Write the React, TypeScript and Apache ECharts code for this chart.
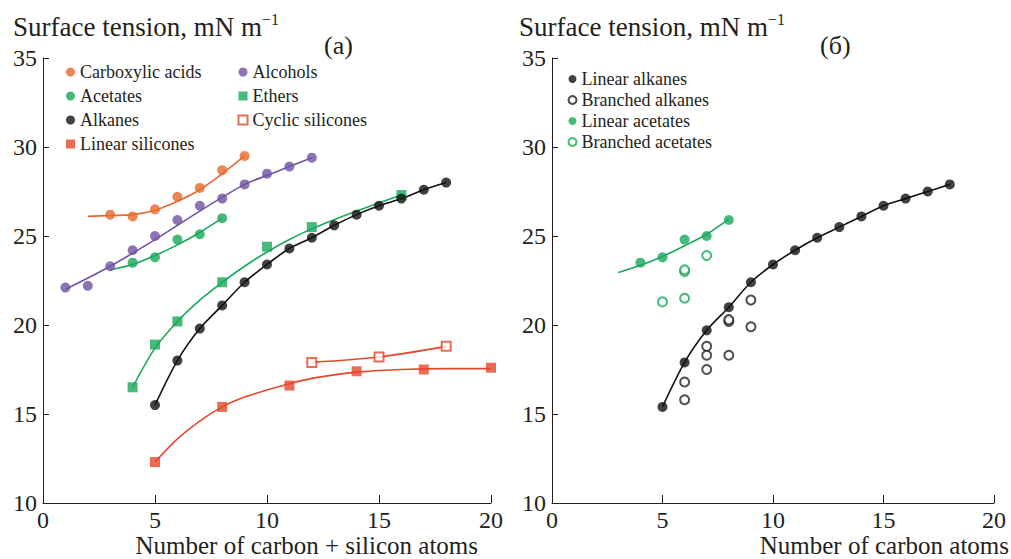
import React, { useEffect, useRef } from "react";
import * as echarts from "echarts";

// ---- Panel (a) data ----
const acidsX = [3, 4, 5, 6, 7, 8, 9];
const acidsY = [26.2, 26.1, 26.5, 27.2, 27.7, 28.7, 29.5];
const acidsFitX = [2, 3, 4, 5, 6, 7, 8, 9];
const acidsFitY = [26.1, 26.15, 26.2, 26.45, 26.95, 27.6, 28.5, 29.5];

const alcoholsX = [1, 2, 3, 4, 5, 6, 7, 8, 9, 10, 11, 12];
const alcoholsY = [22.1, 22.2, 23.3, 24.2, 25.0, 25.9, 26.7, 27.1, 27.9, 28.5, 28.9, 29.4];
const alcoholsFitX = [1, 3, 5, 7, 9, 10, 11, 12];
const alcoholsFitY = [22.0, 23.3, 24.8, 26.4, 27.9, 28.4, 28.9, 29.4];

const acetatesX = [4, 5, 6, 7, 8];
const acetatesY = [23.5, 23.8, 24.8, 25.1, 26.0];
const acetatesFitX = [3, 4, 5, 6, 7, 8];
const acetatesFitY = [23.1, 23.4, 23.9, 24.5, 25.2, 26.0];

const ethersX = [4, 5, 6, 8, 10, 12, 16];
const ethersY = [16.5, 18.9, 20.2, 22.4, 24.4, 25.5, 27.3];
const ethersFitX = [4, 5, 6, 7, 8, 9, 10, 11, 12, 14, 16];
const ethersFitY = [16.5, 18.7, 20.2, 21.4, 22.4, 23.3, 24.1, 24.8, 25.4, 26.4, 27.3];

const alkanesX = [5, 6, 7, 8, 9, 10, 11, 12, 13, 14, 15, 16, 17, 18];
const alkanesY = [15.5, 18.0, 19.8, 21.1, 22.4, 23.4, 24.3, 24.9, 25.6, 26.2, 26.7, 27.1, 27.6, 28.0];

const linSilX = [5, 8, 11, 14, 17, 20];
const linSilY = [12.3, 15.4, 16.6, 17.4, 17.5, 17.6];
const linSilFitX = [5, 6, 7, 8, 9, 10, 11, 12, 13, 14, 16, 18, 20];
const linSilFitY = [12.3, 13.6, 14.6, 15.4, 15.95, 16.35, 16.7, 17.0, 17.2, 17.35, 17.5, 17.55, 17.55];

const cycSilX = [12, 15, 18];
const cycSilY = [17.9, 18.2, 18.8];

// ---- Panel (б) data ----
const linAlkX = [5, 6, 7, 8, 9, 10, 11, 12, 13, 14, 15, 16, 17, 18];
const linAlkY = [15.4, 17.9, 19.7, 21.0, 22.4, 23.4, 24.2, 24.9, 25.5, 26.1, 26.7, 27.1, 27.5, 27.9];

const brAlkX = [6, 6, 7, 7, 7, 8, 8, 8, 9, 9];
const brAlkY = [16.8, 15.8, 18.8, 18.3, 17.5, 20.2, 20.3, 18.3, 21.4, 19.9];

const linAcX = [4, 5, 6, 7, 8];
const linAcY = [23.5, 23.8, 24.8, 25.0, 25.9];
const linAcFitX = [3, 4, 5, 6, 7, 8];
const linAcFitY = [22.95, 23.35, 23.85, 24.45, 25.1, 25.95];

const brAcX = [5, 6, 6, 6, 7];
const brAcY = [21.3, 23.0, 23.1, 21.5, 23.9];

const xTicks = [0, 5, 10, 15, 20];
const yTicks = [10, 15, 20, 25, 30, 35];

const ORANGE = "#e8682c";
const PURPLE = "#7052a3";
const GREEN = "#19a85a";
const RED = "#e5472c";
const BLACK = "#111111";
const INK = "#231f20";
const FONT = "Liberation Serif";

const zip = (xs: number[], ys: number[]) => xs.map((x, i) => [x, ys[i]]);

export default function App() {
  const ref = useRef<HTMLDivElement>(null);
  useEffect(() => {
    const chart = echarts.init(ref.current!, null, { renderer: "svg" });

    const xAxisBase = (gridIndex: number) => ({
      type: "value",
      gridIndex,
      min: xTicks[0],
      max: xTicks[xTicks.length - 1],
      interval: 5,
      axisLine: { show: true, lineStyle: { color: INK, width: 1 } },
      axisTick: { show: true, inside: true, length: 8, lineStyle: { color: INK } },
      axisLabel: { fontSize: 24, fontFamily: FONT, color: INK, margin: 5 },
      splitLine: { show: false },
    });
    const yAxisBase = (gridIndex: number) => ({
      type: "value",
      gridIndex,
      min: yTicks[0],
      max: yTicks[yTicks.length - 1],
      interval: 5,
      axisLine: { show: true, lineStyle: { color: INK, width: 1 } },
      axisTick: { show: true, inside: true, length: 6, lineStyle: { color: INK } },
      axisLabel: { fontSize: 24, fontFamily: FONT, color: INK, margin: 6 },
      splitLine: { show: false },
    });

    const scatter = (name: string, data: number[][], idx: number, symbol: string, color: string, open = false, size = 10) => ({
      type: "scatter",
      name,
      xAxisIndex: idx,
      yAxisIndex: idx,
      data,
      symbol,
      symbolSize: open ? size - 1 : size,
      z: 5,
      itemStyle: open
        ? { color: "#ffffff", borderColor: color, borderWidth: 2 }
        : { color },
    });
    const curve = (id: string, data: number[][], idx: number, color: string, smooth = 0.3) => ({
      type: "line",
      name: id,
      xAxisIndex: idx,
      yAxisIndex: idx,
      data,
      smooth,
      showSymbol: false,
      symbol: "none",
      silent: true,
      z: 3,
      lineStyle: { color, width: 1.6 },
    });

    const legendText = { fontSize: 18, fontFamily: FONT, color: INK, lineHeight: 18 };

    chart.setOption({
      animation: false,
      backgroundColor: "#ffffff",
      textStyle: { fontFamily: FONT, color: INK },
      grid: [
        { left: 43, top: 58, width: 448, height: 445 },
        { left: 552, top: 58, width: 442, height: 445 },
      ],
      xAxis: [xAxisBase(0), xAxisBase(1)],
      yAxis: [yAxisBase(0), yAxisBase(1)],
      legend: [
        {
          orient: "vertical",
          left: 66,
          top: 63,
          padding: 0,
          itemWidth: 9,
          itemHeight: 9,
          itemGap: 6,
          textStyle: legendText,
          data: ["Carboxylic acids", "Acetates", "Alkanes", "Linear silicones"],
        },
        {
          orient: "vertical",
          left: 237.5,
          top: 63,
          padding: 0,
          itemWidth: 9,
          itemHeight: 9,
          itemGap: 6,
          textStyle: legendText,
          data: ["Alcohols", "Ethers", "Cyclic silicones"],
        },
        {
          orient: "vertical",
          left: 567.5,
          top: 70,
          padding: 0,
          itemWidth: 8,
          itemHeight: 8,
          itemGap: 3,
          textStyle: legendText,
          data: ["Linear alkanes", "Branched alkanes", "Linear acetates", "Branched acetates"],
        },
      ],
      graphic: [
        {
          type: "text",
          left: 13,
          top: 11,
          style: {
            text: "{a|Surface tension, mN m}{b|−1}",
            rich: {
              a: { fontSize: 27, fontFamily: FONT, fill: INK, lineHeight: 32 },
              b: { fontSize: 16, fontFamily: FONT, fill: INK, verticalAlign: "top", lineHeight: 32, padding: [0, 0, 12, 0] },
            },
          },
        },
        {
          type: "text",
          left: 519,
          top: 11,
          style: {
            text: "{a|Surface tension, mN m}{b|−1}",
            rich: {
              a: { fontSize: 27, fontFamily: FONT, fill: INK, lineHeight: 32 },
              b: { fontSize: 16, fontFamily: FONT, fill: INK, verticalAlign: "top", lineHeight: 32, padding: [0, 0, 12, 0] },
            },
          },
        },
        {
          type: "text",
          left: 324,
          top: 32,
          style: { text: "(a)", fontSize: 26, fontFamily: FONT, fill: INK },
        },
        {
          type: "text",
          left: 820,
          top: 32,
          style: { text: "(б)", fontSize: 26, fontFamily: FONT, fill: INK },
        },
        {
          type: "text",
          right: 1011 - 478,
          top: 533,
          style: { text: "Number of carbon + silicon atoms", fontSize: 25, fontFamily: FONT, fill: INK },
        },
        {
          type: "text",
          right: 2,
          top: 533,
          style: { text: "Number of carbon atoms", fontSize: 25, fontFamily: FONT, fill: INK },
        },
      ],
      series: [
        curve("fit-acids", zip(acidsFitX, acidsFitY), 0, ORANGE),
        curve("fit-alcohols", zip(alcoholsFitX, alcoholsFitY), 0, PURPLE),
        curve("fit-acetates", zip(acetatesFitX, acetatesFitY), 0, GREEN),
        curve("fit-ethers", zip(ethersFitX, ethersFitY), 0, GREEN),
        curve("fit-alkanes", zip(alkanesX, alkanesY), 0, BLACK),
        curve("fit-linsil", zip(linSilFitX, linSilFitY), 0, RED),
        curve("fit-cycsil", zip(cycSilX, cycSilY), 0, RED),
        scatter("Carboxylic acids", zip(acidsX, acidsY), 0, "circle", ORANGE),
        scatter("Alcohols", zip(alcoholsX, alcoholsY), 0, "circle", PURPLE),
        scatter("Acetates", zip(acetatesX, acetatesY), 0, "circle", GREEN),
        scatter("Ethers", zip(ethersX, ethersY), 0, "rect", GREEN),
        scatter("Alkanes", zip(alkanesX, alkanesY), 0, "circle", BLACK),
        scatter("Cyclic silicones", zip(cycSilX, cycSilY), 0, "rect", RED, true),
        scatter("Linear silicones", zip(linSilX, linSilY), 0, "rect", RED),

        curve("fit-linalk", zip(linAlkX, linAlkY), 1, BLACK),
        curve("fit-linac", zip(linAcFitX, linAcFitY), 1, GREEN),
        scatter("Linear alkanes", zip(linAlkX, linAlkY), 1, "circle", BLACK),
        scatter("Branched alkanes", zip(brAlkX, brAlkY), 1, "circle", "#222222", true),
        scatter("Linear acetates", zip(linAcX, linAcY), 1, "circle", GREEN),
        scatter("Branched acetates", zip(brAcX, brAcY), 1, "circle", GREEN, true),
      ],
    });
    return () => chart.dispose();
  }, []);
  return (
    <div
      ref={ref}
      style={{ position: "absolute", left: 0, top: 0, width: 1011, height: 559, background: "#fff" }}
    />
  );
}
